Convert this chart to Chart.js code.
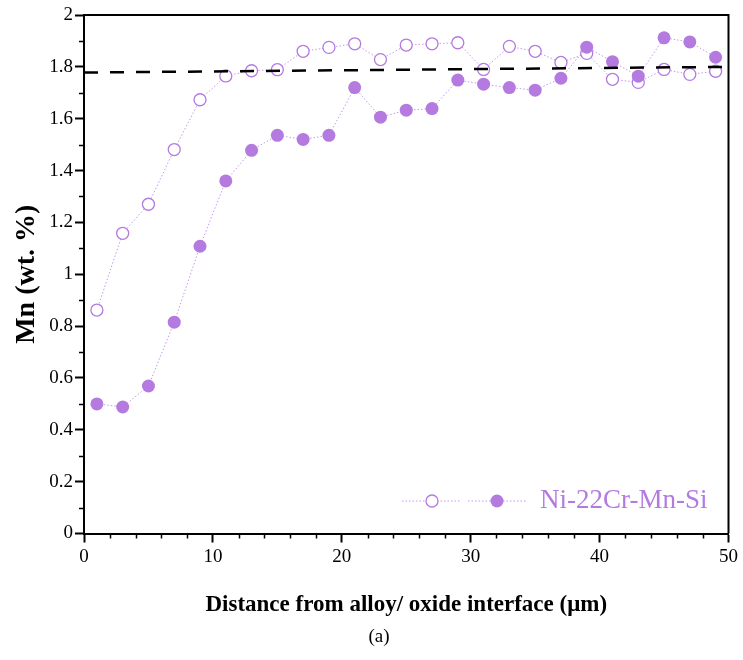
<!DOCTYPE html>
<html>
<head>
<meta charset="utf-8">
<script src="https://cdn.jsdelivr.net/npm/chart.js@4.4.1/dist/chart.umd.min.js"></script>
<style>
  html, body { margin: 0; padding: 0; background: #ffffff; }
  #wrap { position: relative; width: 743px; height: 660px; }
</style>
</head>
<body>
<div id="wrap"><canvas id="c" width="743" height="660"></canvas></div>
<script>
// ---- data ----
const distances = [1,3,5,7,9,11,13,15,17,19,21,23,25,27,29,31,33,35,37,39,41,43,45,47,49];
const mnOpen = [0.862,1.158,1.270,1.481,1.673,1.765,1.785,1.789,1.860,1.875,1.889,1.828,1.884,1.889,1.893,1.790,1.879,1.860,1.817,1.852,1.752,1.740,1.790,1.771,1.783];
const mnFilled = [0.500,0.488,0.569,0.815,1.108,1.360,1.478,1.536,1.520,1.536,1.720,1.606,1.633,1.639,1.749,1.733,1.720,1.710,1.756,1.876,1.820,1.764,1.912,1.896,1.837];
const refLineX = [0, 50];
const refLineY = [1.778, 1.800];
const legendLabel = 'Ni-22Cr-Mn-Si';
const xTitle = 'Distance from alloy/ oxide interface (\u03bcm)';
const yTitle = 'Mn (wt. %)';
const caption = '(a)';

const purple = '#b47ae0';
const purpleLine = '#c497ec';
const serif = '"Liberation Serif", "Times New Roman", serif';

const toPts = (xs, ys) => xs.map((x, i) => ({x: x, y: ys[i]}));

// minor ticks, top/right frame, legend, caption
const decor = {
  id: 'decor',
  afterDraw(chart) {
    const ctx = chart.ctx;
    const xs = chart.scales.x, ys = chart.scales.y;
    const a = chart.chartArea;
    ctx.save();
    // frame top and right
    ctx.strokeStyle = '#000';
    ctx.lineWidth = 2;
    ctx.beginPath();
    ctx.moveTo(a.left, a.top);
    ctx.lineTo(a.right, a.top);
    ctx.lineTo(a.right, a.bottom);
    ctx.stroke();
    // minor ticks
    ctx.lineWidth = 1.5;
    ctx.beginPath();
    for (let v = 2; v < 50; v += 2) {
      if (v % 10 === 0) continue;
      const px = Math.round(xs.getPixelForValue(v)) + 0.5;
      ctx.moveTo(px, a.bottom);
      ctx.lineTo(px, a.bottom + 5);
    }
    for (let k = 1; k < 20; k += 2) {
      const py = Math.round(ys.getPixelForValue(k / 10)) + 0.5;
      ctx.moveTo(a.left, py);
      ctx.lineTo(a.left - 5, py);
    }
    ctx.stroke();
    // legend
    const ly = 501;
    ctx.strokeStyle = purpleLine;
    ctx.lineWidth = 1;
    ctx.setLineDash([1.5, 2]);
    ctx.beginPath();
    ctx.moveTo(402, ly); ctx.lineTo(461, ly);
    ctx.moveTo(468, ly); ctx.lineTo(527, ly);
    ctx.stroke();
    ctx.setLineDash([]);
    ctx.beginPath();
    ctx.arc(432, ly, 6, 0, Math.PI * 2);
    ctx.fillStyle = '#fff';
    ctx.fill();
    ctx.strokeStyle = purple;
    ctx.lineWidth = 1.3;
    ctx.stroke();
    ctx.beginPath();
    ctx.arc(497, ly, 6.5, 0, Math.PI * 2);
    ctx.fillStyle = purple;
    ctx.fill();
    ctx.fillStyle = purple;
    ctx.font = '27px ' + serif;
    ctx.textAlign = 'left';
    ctx.textBaseline = 'middle';
    ctx.fillText(legendLabel, 540, ly);
    // caption
    ctx.fillStyle = '#000';
    ctx.font = '19px ' + serif;
    ctx.textAlign = 'center';
    ctx.fillText(caption, 379, 637);
    ctx.restore();
  }
};

new Chart(document.getElementById('c'), {
  type: 'line',
  data: {
    datasets: [
      {
        label: legendLabel + ' open',
        data: toPts(distances, mnOpen),
        borderColor: purpleLine,
        borderWidth: 1,
        borderDash: [1.5, 2],
        pointRadius: 6,
        pointBorderWidth: 1.3,
        pointBorderColor: purple,
        pointBackgroundColor: '#ffffff',
        fill: false,
        order: 3
      },
      {
        label: legendLabel,
        data: toPts(distances, mnFilled),
        borderColor: purpleLine,
        borderWidth: 1,
        borderDash: [1.5, 2],
        pointRadius: 6.5,
        pointBorderWidth: 0,
        pointBorderColor: purple,
        pointBackgroundColor: purple,
        fill: false,
        order: 2
      },
      {
        label: 'reference',
        data: toPts(refLineX, refLineY),
        borderColor: '#000',
        borderWidth: 2.5,
        borderDash: [14, 12],
        pointRadius: 0,
        fill: false,
        order: 1
      }
    ]
  },
  options: {
    responsive: false,
    animation: false,
    events: [],
    layout: { padding: { top: 15, right: 14.5, left: 0, bottom: 0 } },
    plugins: { legend: { display: false }, tooltip: { enabled: false } },
    scales: {
      x: {
        type: 'linear',
        min: 0, max: 50,
        ticks: {
          stepSize: 10,
          color: '#000',
          font: { family: serif, size: 19 },
          padding: 3,
          maxRotation: 0
        },
        grid: { drawOnChartArea: false, tickLength: 9, tickColor: '#000', tickWidth: 2 },
        border: { color: '#000', width: 2 },
        title: {
          display: true,
          text: xTitle,
          color: '#000',
          font: { family: serif, size: 23, weight: 'bold', lineHeight: 1.2 },
          padding: { top: 0, bottom: 41 }
        },
        afterFit(scale) { scale.height = 126.5; }
      },
      y: {
        type: 'linear',
        min: 0, max: 2,
        ticks: {
          stepSize: 0.2,
          color: '#000',
          font: { family: serif, size: 19 },
          padding: 2,
          callback: (v) => String(Number(v.toFixed(1)))
        },
        grid: { drawOnChartArea: false, tickLength: 9, tickColor: '#000', tickWidth: 2 },
        border: { color: '#000', width: 2 },
        title: {
          display: true,
          text: yTitle,
          color: '#000',
          font: { family: serif, size: 28, weight: 'bold', lineHeight: 1.2 },
          padding: { top: 10, bottom: 0 }
        },
        afterFit(scale) { scale.width = 84; }
      }
    }
  },
  plugins: [decor]
});
</script>
</body>
</html>
